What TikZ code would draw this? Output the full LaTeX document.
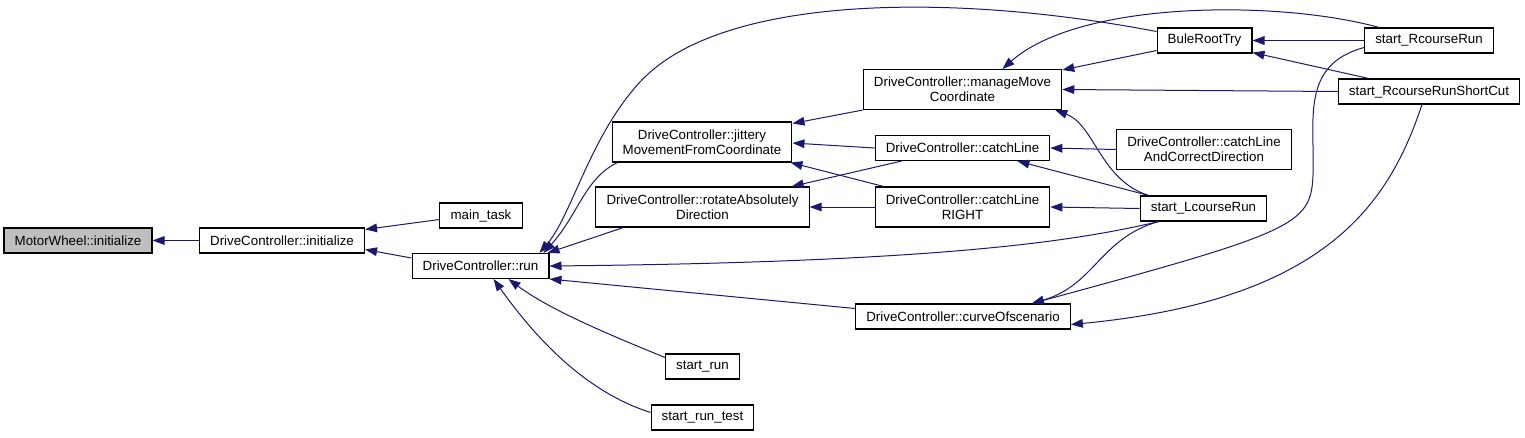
\documentclass[tikz,border=0pt]{standalone}
\usepackage{fontspec}
\setmainfont{Liberation Sans}
\usetikzlibrary{arrows.meta,calc}
\definecolor{edgeblue}{HTML}{191970}
\definecolor{leafgray}{HTML}{BFBFBF}

\begin{document}
\begin{tikzpicture}[
  x=0.75pt, y=-0.75pt,
  every node/.style={font=\fontsize{10}{11}\selectfont},
  fn/.style={draw, line width=0.8pt, inner xsep=8pt, inner ysep=2pt,
             minimum height=18.75pt, align=center, fill=white},
  fn2/.style={fn, minimum height=30pt},
  cur/.style={fn, fill=leafgray},
  arr/.style={-{Triangle[length=9pt,width=6.5pt]}, line width=0.75pt, edgeblue}
]
\useasboundingbox (0,0) rectangle (1525,437);

\node[cur] (mw)       at (78,240.5)   {MotorWheel::initialize};
\node[fn]  (dcinit)   at (282,240.5)  {DriveController::initialize};
\node[fn]  (maintask) at (481,215.5)  {main\_task};
\node[fn]  (run)      at (480.5,266)  {DriveController::run};
\node[fn2] (jit)      at (702,142)    {DriveController::jittery\\MovementFromCoordinate};
\node[fn2] (rot)      at (702.5,207)  {DriveController::rotateAbsolutely\\Direction};
\node[fn]  (srun)     at (702.5,366.5) {start\_run};
\node[fn]  (srtest)   at (702.5,417.5) {start\_run\_test};
\node[fn2] (mng)      at (962.5,89.5) {DriveController::manageMove\\Coordinate};
\node[fn]  (cl)       at (962.5,148)  {DriveController::catchLine};
\node[fn2] (clr)      at (962.5,207)  {DriveController::catchLine\\RIGHT};
\node[fn]  (cos)      at (963,316.5)  {DriveController::curveOfscenario};
\node[fn]  (bule)     at (1204.5,40.5) {BuleRootTry};
\node[fn2] (clacd)    at (1204,149.5) {DriveController::catchLine\\AndCorrectDirection};
\node[fn]  (lrun)     at (1203.5,208.5) {start\_LcourseRun};
\node[fn]  (rrun)     at (1429,40.5)  {start\_RcourseRun};
\node[fn]  (rsc)      at (1429,91.5)  {start\_RcourseRunShortCut};

% callers of DriveController::initialize
\draw[arr] (dcinit.west) -- (mw.east);
\draw[arr] ($(maintask.west)+(0,4)$) -- ($(dcinit.north east)+(0,2)$);
\draw[arr] ($(run.west)+(0,-8)$) -- ($(dcinit.east)+(0,9)$);

% callers of DriveController::run
\draw[arr] ($(jit.south west)+(6,0)$) .. controls (585,178) and (578,215) .. ($(run.north east)+(-6,0)$);
\draw[arr] ($(rot.south west)+(28,0)$) -- ($(run.north east)+(-2,0)$);
\draw[arr] ($(bule.west)+(0,-9)$) .. controls (950,-8) and (720,-5) .. (640,82)
           .. controls (590,136) and (572,215) .. ($(run.north east)+(-10,0)$);
\draw[arr] ($(lrun.south west)+(19,0)$) .. controls (1080,240) and (950,262) .. (run.east);
\draw[arr] ($(cos.west)+(0,-8)$) -- (run.south east);
\draw[arr] ($(srun.north west)+(0,4)$) .. controls (610,335) and (550,310) .. ($(run.south)+(28,0)$);
\draw[arr] ($(srtest.west)+(0,-5)$) .. controls (580,390) and (530,330) .. ($(run.south)+(13,0)$);

% jittery / rotate
\draw[arr] (mng.south west) -- ($(jit.north east)+(0,2)$);
\draw[arr] (cl.west) -- ($(jit.east)+(0,1)$);
\draw[arr] ($(clr.north west)+(9,0)$) -- ($(jit.south east)+(-2,0)$);
\draw[arr] ($(cl.south west)+(27,0)$) -- ($(rot.north east)+(-18,0)$);
\draw[arr] (clr.west) -- (rot.east);

% manageMove
\draw[arr] ($(bule.south west)+(0,-3)$) -- ($(mng.north east)+(0,1)$);
\draw[arr] ($(rrun.north west)+(15,0)$) .. controls (1280,0) and (1080,0) .. ($(mng.north)+(40,0)$);
\draw[arr] (rsc.west) -- (mng.east);
\draw[arr] ($(lrun.north west)+(9,0)$) .. controls (1100,180) and (1095,125) .. ($(mng.south east)+(-7,0)$);

% catchLine, catchLineRIGHT
\draw[arr] (clacd.west) -- (cl.east);
\draw[arr] ($(lrun.north west)+(9,0)$) -- ($(cl.south east)+(-33,0)$);
\draw[arr] (lrun.west) -- (clr.east);

% curveOfscenario
\draw[arr] ($(lrun.south west)+(19,0)$) .. controls (1100,238) and (1095,285) .. ($(cos.north east)+(-39,0)$);
\draw[arr] ($(rrun.west)+(0,7)$) .. controls (1300,65) and (1315,120) .. (1313,175)
           .. controls (1311,225) and (1295,232) .. ($(cos.north east)+(-39,0)$);
\draw[arr] ($(rsc.south)+(-7,0)$) .. controls (1390,200) and (1330,300) .. ($(cos.east)+(0,8)$);

% BuleRootTry
\draw[arr] (rrun.west) -- (bule.east);
\draw[arr] ($(rsc.north west)+(31,0)$) -- ($(bule.south east)+(0,-1)$);
\end{tikzpicture}
\end{document}
